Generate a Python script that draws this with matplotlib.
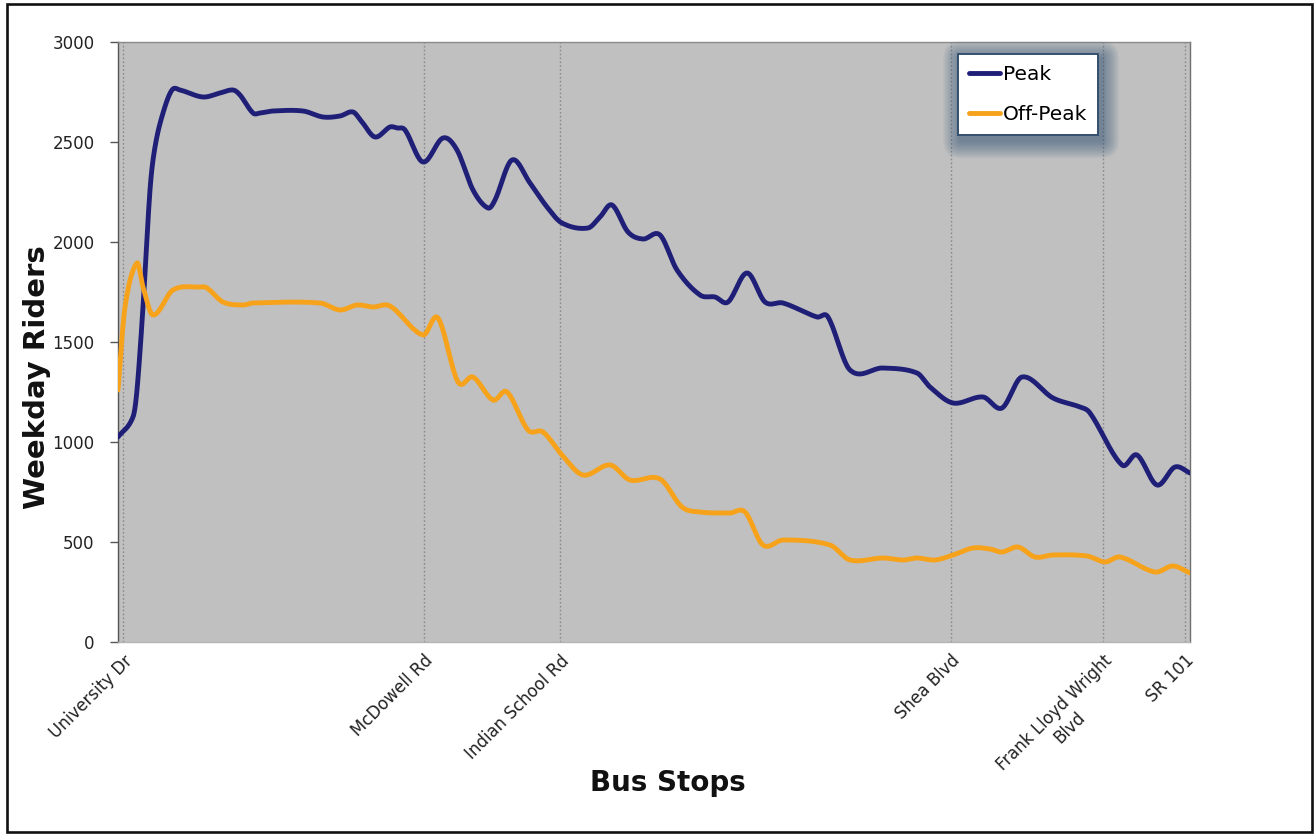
import numpy as np
import matplotlib
matplotlib.use("Agg")
import matplotlib.pyplot as plt
from matplotlib.patches import Rectangle, FancyBboxPatch
from matplotlib.transforms import IdentityTransform

# Position along the route (same scale for both series) and weekday riders
peak_pos = [0, 1.5, 1.9, 2.5, 3.2, 3.7, 4.5, 5.4, 6.2, 8.5, 10.2, 11.5, 12.2, 13.5,
            14.2, 15.5, 18.5, 20.5, 22.2, 23.5, 24.4, 25.7, 27.2, 27.9, 28.7, 30.5,
            32.5, 33.9, 35.5, 37.0, 37.7, 39.4, 41.2, 42.9, 44.4, 47.0, 48.2, 49.4,
            51.0, 52.5, 54.2, 55.9, 58.2, 59.7, 61.0, 62.9, 64.7, 66.5, 69.9, 71.0,
            73.2, 76.5, 79.9, 81.2, 83.5, 86.5, 88.4, 90.4, 93.5, 96.2, 97.2, 100.4,
            101.9, 103.9, 105.7, 107.2]
peak_riders = [1025, 1125, 1260, 1675, 2260, 2475, 2645, 2760, 2760, 2725, 2745, 2760,
               2735, 2645, 2645, 2655, 2655, 2625, 2630, 2650, 2600, 2525, 2575, 2570,
               2560, 2400, 2520, 2460, 2260, 2170, 2210, 2410, 2295, 2175, 2095, 2070,
               2125, 2185, 2050, 2015, 2035, 1860, 1735, 1725, 1700, 1845, 1700, 1695,
               1625, 1625, 1360, 1370, 1345, 1275, 1195, 1225, 1170, 1325, 1220, 1175,
               1145, 885, 935, 785, 875, 845]

offpeak_pos = [0, 0.7, 1.9, 2.5, 3.5, 5.5, 8.2, 8.9, 10.5, 12.5, 13.5, 20.2, 22.2, 23.9,
               25.5, 27.2, 30.5, 32.0, 34.0, 35.5, 37.5, 38.9, 41.0, 42.5, 44.4, 46.5,
               49.2, 51.2, 54.2, 56.4, 58.2, 61.2, 62.7, 64.5, 66.5, 71.2, 73.2, 76.5,
               78.5, 79.9, 81.7, 83.5, 85.5, 87.2, 88.4, 90.0, 91.7, 93.5, 96.9, 98.7,
               100.2, 103.7, 105.5, 107.2]
offpeak_riders = [1260, 1675, 1895, 1775, 1635, 1760, 1775, 1770, 1700, 1685, 1695, 1695,
                  1660, 1685, 1675, 1680, 1535, 1620, 1300, 1325, 1210, 1250, 1060, 1050,
                  935, 835, 885, 810, 815, 675, 650, 645, 650, 485, 510, 485, 410, 420,
                  410, 420, 410, 435, 470, 465, 450, 475, 425, 435, 430, 400, 425, 350,
                  380, 345]

stop_pos = [0.5, 30.6, 44.2, 83.3, 98.5, 106.7]
stop_names = ["University Dr", "McDowell Rd", "Indian School Rd", "Shea Blvd",
              "Frank Lloyd Wright\nBlvd", "SR 101"]
y_ticks = [0, 500, 1000, 1500, 2000, 2500, 3000]


def smooth(xs, ys, n=20):
    """Cubic Hermite curve through the points (y as a function of x)."""
    x = np.asarray(xs, float)
    y = np.asarray(ys, float)
    m = np.empty_like(y)
    m[1:-1] = (y[2:] - y[:-2]) / (x[2:] - x[:-2])
    m[0] = (y[1] - y[0]) / (x[1] - x[0])
    m[-1] = (y[-1] - y[-2]) / (x[-1] - x[-2])
    cx, cy = [], []
    for i in range(len(x) - 1):
        h = x[i + 1] - x[i]
        t = np.linspace(0, 1, n, endpoint=False)
        h00 = 2 * t**3 - 3 * t**2 + 1
        h10 = t**3 - 2 * t**2 + t
        h01 = -2 * t**3 + 3 * t**2
        h11 = t**3 - t**2
        cx.append(x[i] + h * t)
        cy.append(h00 * y[i] + h10 * h * m[i] + h01 * y[i + 1] + h11 * h * m[i + 1])
    cx.append([x[-1]])
    cy.append([y[-1]])
    return np.concatenate(cx), np.concatenate(cy)


W, H = 1315, 834
fig = plt.figure(figsize=(W / 100, H / 100), dpi=100)
fig.patch.set_facecolor("white")

ax = fig.add_axes([118 / W, 1 - 642 / H, (1190 - 118) / W, (642 - 42) / H])
ax.set_facecolor("#c0c0c0")

peak_color = "#1f1f78"
off_color = "#f7a21b"

px, py = smooth(peak_pos, peak_riders)
ox, oy = smooth(offpeak_pos, offpeak_riders)
ax.plot(px, py, color=peak_color, lw=3.5, solid_joinstyle="round",
        solid_capstyle="round", label="Peak", zorder=3)
ax.plot(ox, oy, color=off_color, lw=3.5, solid_joinstyle="round",
        solid_capstyle="round", label="Off-Peak", zorder=3)

ax.set_xlim(0, 107.2)
ax.set_ylim(0, 3000)
ax.set_yticks(y_ticks)
ax.set_yticklabels([str(v) for v in y_ticks], fontsize=12, color="#222222")
ax.tick_params(axis="y", direction="out", length=6, width=1, color="#555555", pad=11)

ax.set_xticks(stop_pos)
ax.set_xticklabels(stop_names, rotation=45, ha="right", va="top",
                   rotation_mode="anchor", fontsize=12, color="#222222",
                   multialignment="center")
ax.tick_params(axis="x", length=0, pad=7)
ax.grid(axis="x", color="#8a8a8a", linestyle=(0, (1.2, 1.6)), linewidth=1.0)
ax.set_axisbelow(True)

ax.spines["left"].set_color("#555555")
ax.spines["top"].set_color("#8a8a8a")
ax.spines["right"].set_color("#707070")
ax.spines["bottom"].set_color("#b5b5b5")
for s in ax.spines.values():
    s.set_linewidth(1.0)

fig.text(37 / W, 1 - 377 / H, "Weekday Riders", rotation=90, ha="center",
         va="center", fontsize=21, fontweight="bold", color="#111111")
fig.text(668 / W, 1 - 783 / H, "Bus Stops", ha="center", va="center",
         fontsize=20, fontweight="bold", color="#111111")

leg = ax.legend(loc="upper left", bbox_to_anchor=(958 / W, 1 - 54 / H),
                bbox_transform=fig.transFigure, borderaxespad=0, fontsize=14.5,
                frameon=True, fancybox=False, framealpha=1, handlelength=1.55,
                handletextpad=0.12, labelspacing=1.05, borderpad=0.55)
leg.get_frame().set_edgecolor("#34506e")
leg.get_frame().set_linewidth(1.4)
for line in leg.get_lines():
    line.set_linewidth(3.5)

# soft blue-grey glow behind the legend box
fig.canvas.draw()
bb = leg.get_window_extent()
for k in range(18, 0, -1):
    ax.add_patch(FancyBboxPatch((bb.x0 - k + 3, bb.y0 - k - 5), bb.width + 2 * k,
                                bb.height + 2 * k,
                                boxstyle=f"round,pad=0,rounding_size={k}",
                                transform=IdentityTransform(),
                                facecolor="#34557a", edgecolor="none", alpha=0.04,
                                zorder=4, clip_on=False))

# outer frame around the whole figure
fig.add_artist(Rectangle((7 / W, 2 / H), (1312 - 7) / W, (830 - 2) / H,
                         transform=fig.transFigure, fill=False,
                         edgecolor="#111111", linewidth=1.9))

fig.savefig("out.png", dpi=100, facecolor="white")
